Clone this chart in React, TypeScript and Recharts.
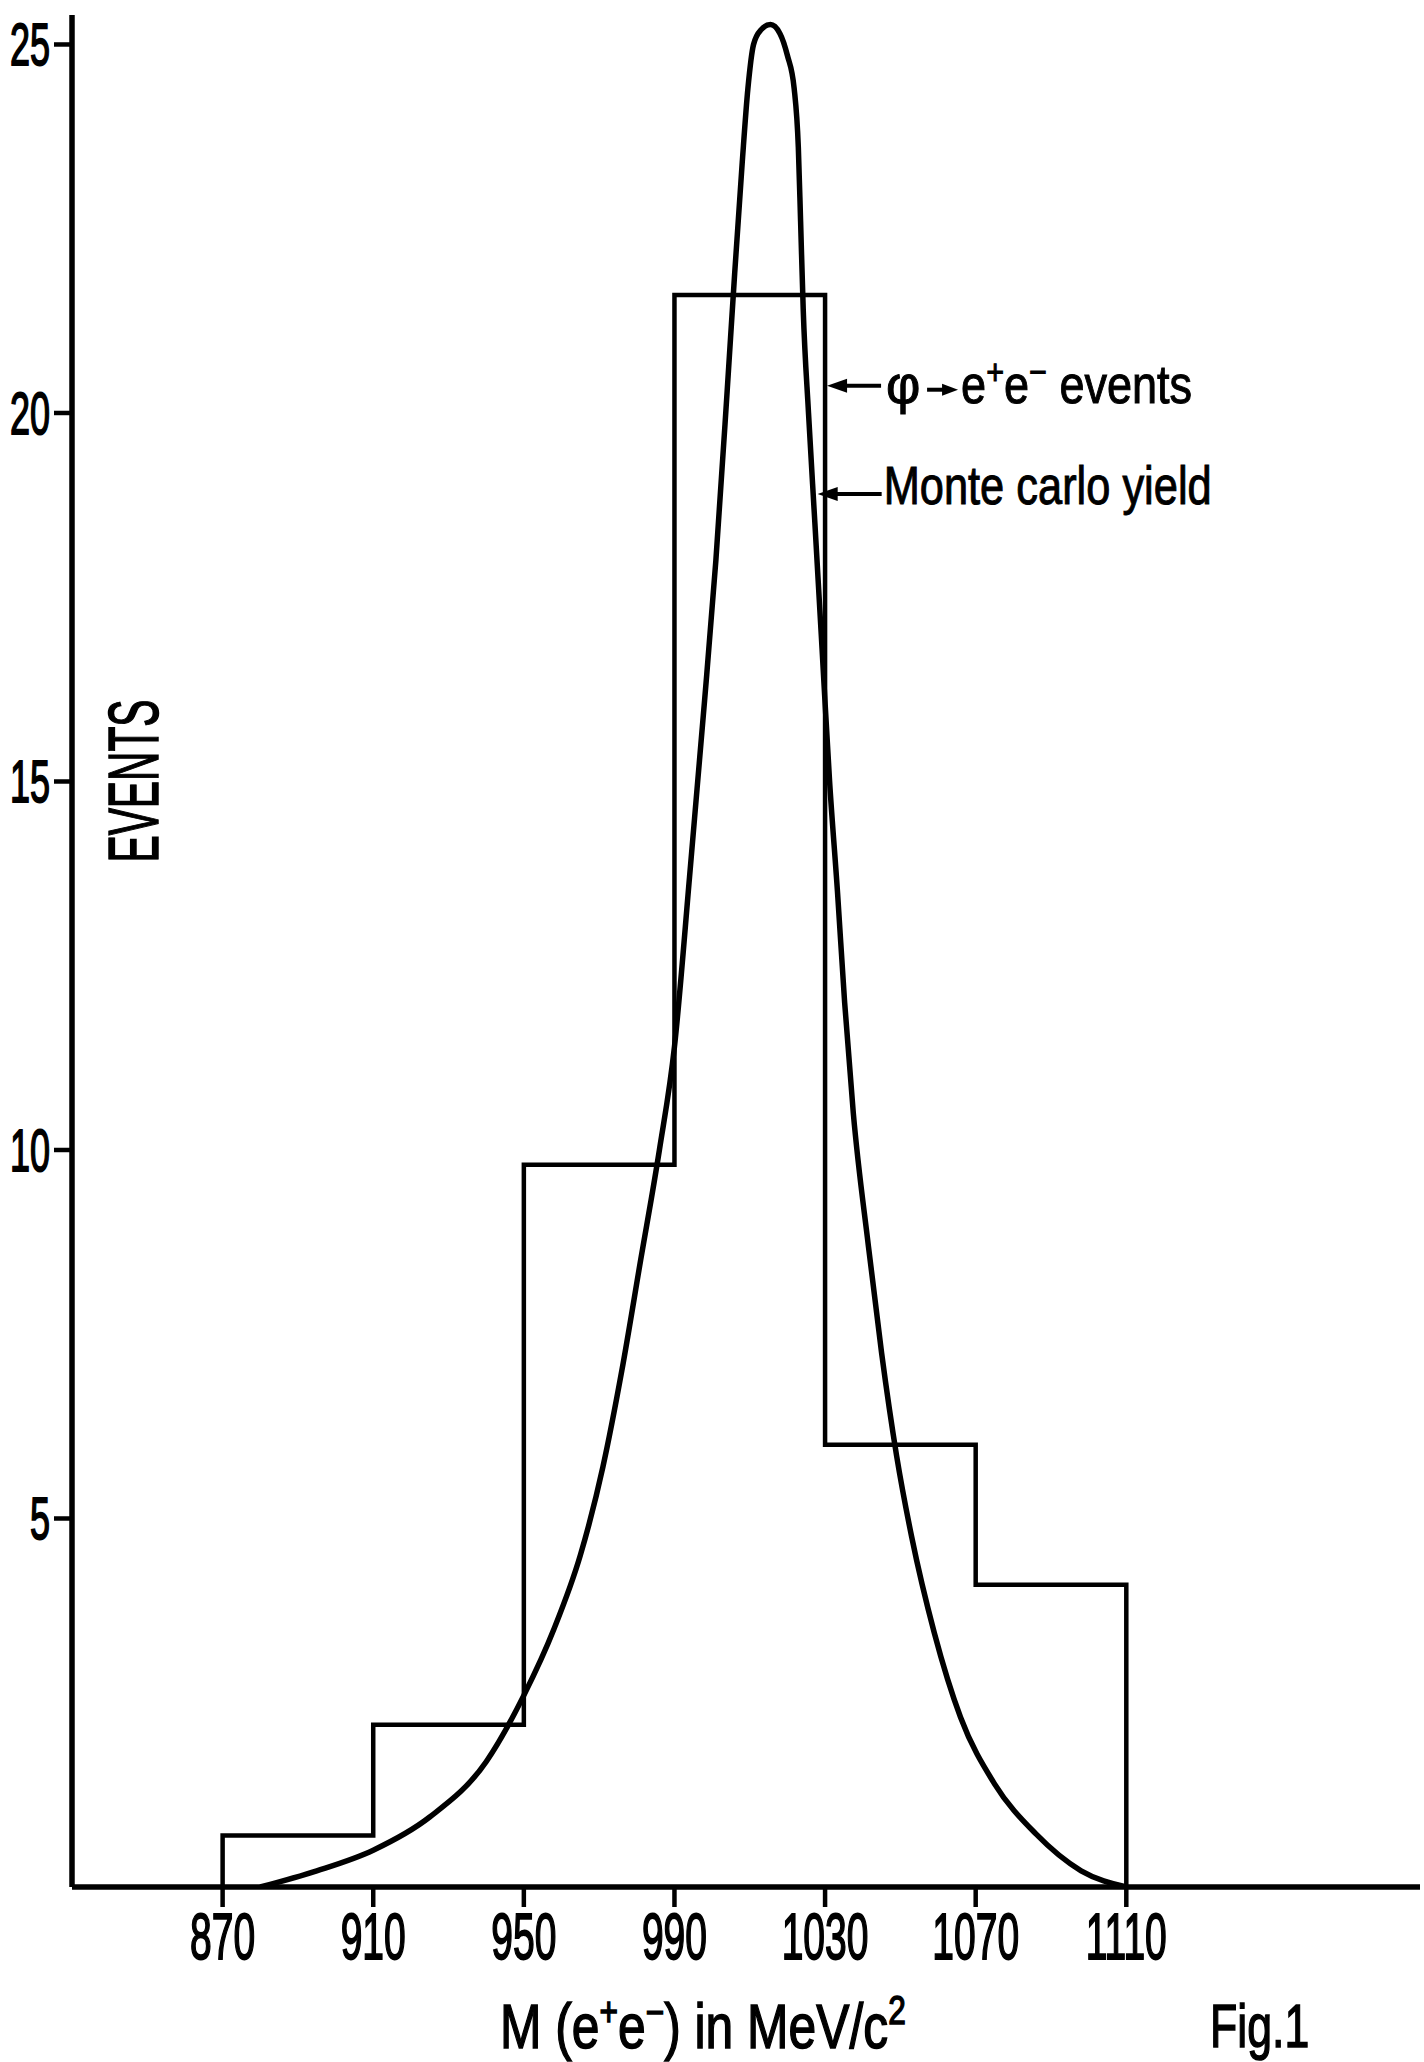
import React from 'react'
import { ComposedChart, Line, XAxis, YAxis, ReferenceDot } from 'recharts'

// histogram of phi -> e+e- events (bin edges in MeV/c^2, heights in events)
const binEdges = [870, 910, 950, 990, 1030, 1070, 1110]
const binCounts = [0.7, 2.2, 9.8, 21.6, 6.0, 4.1]

// Monte carlo yield curve
const mcMass = [
  880, 895, 910, 925, 940, 950, 958, 965, 971, 976, 981, 986, 990, 994, 996,
  998, 1001, 1004, 1006, 1008, 1009.5, 1011, 1013, 1015.5, 1018, 1020, 1021.8,
  1022.9, 1023.5, 1024.2, 1025.6, 1027.3, 1029.2, 1031.2, 1033.3, 1035.2,
  1037.5, 1041.5, 1045, 1049, 1053, 1059, 1066, 1075, 1086, 1098, 1110,
]
const mcYield = [
  0, 0.22, 0.5, 0.95, 1.7, 2.6, 3.5, 4.5, 5.7, 7.0, 8.5, 10.0, 11.4, 13.7, 14.9,
  16.1, 18.0, 20.3, 21.9, 23.4, 24.4, 25.0, 25.2, 25.27, 25.15, 24.85, 24.4,
  23.6, 22.6, 21.4, 20.0, 18.5, 16.8, 15.0, 13.5, 12.0,
  10.5, 8.7, 7.25, 5.85, 4.75, 3.45, 2.3, 1.4, 0.72, 0.22, 0,
]

const massTicks = [870, 910, 950, 990, 1030, 1070, 1110]
const eventTicks = [5, 10, 15, 20, 25]

const FONT = '"Liberation Sans", Arial, sans-serif'

// step outline: start on the axis, climb each bin, drop back at the last edge
const histData = [
  { x: binEdges[0], y: 0 },
  ...binCounts.map((c, i) => ({ x: binEdges[i], y: c })),
  { x: binEdges[binEdges.length - 1], y: 0 },
]
const mcData = mcMass.map((m, i) => ({ x: m, y: mcYield[i] }))

const XTick = (props: any) => {
  const { x, y, payload } = props
  return (
    <text
      transform={`translate(${x},${y + 48}) scale(0.61,1)`}
      textAnchor="middle"
      fontSize={64}
      fontFamily={FONT}
      fill="#000"
      stroke="#000"
      strokeWidth={1.8}
    >
      {payload.value}
    </text>
  )
}

const YTick = (props: any) => {
  const { x, y, payload } = props
  return (
    <text
      transform={`translate(${x},${y + 21}) scale(0.6,1)`}
      textAnchor="end"
      fontSize={60}
      fontFamily={FONT}
      fill="#000"
      stroke="#000"
      strokeWidth={1.8}
    >
      {payload.value}
    </text>
  )
}

const EventsNote = (props: any) => {
  const { cx, cy } = props
  return (
    <g>
      <line x1={cx + 14} y1={cy} x2={cx + 56} y2={cy} stroke="#000" strokeWidth={4} />
      <polygon points={`${cx + 2},${cy} ${cx + 22},${cy - 7} ${cx + 22},${cy + 7}`} fill="#000" />
      <text x={cx + 61} y={cy + 17} fontSize={53} fontFamily={FONT} fill="#000" stroke="#000" strokeWidth={1}>
        φ
      </text>
      <line x1={cx + 102} y1={cy + 4} x2={cx + 120} y2={cy + 4} stroke="#000" strokeWidth={4} />
      <polygon
        points={`${cx + 133},${cy + 4} ${cx + 117},${cy - 2} ${cx + 117},${cy + 10}`}
        fill="#000"
      />
      <text
        transform={`translate(${cx + 136},${cy + 17}) scale(0.85,1)`}
        fontSize={53}
        fontFamily={FONT}
        fill="#000"
        stroke="#000"
        strokeWidth={1}
      >
        e<tspan dy={-19} fontSize={36}>+</tspan>
        <tspan dy={19}>e</tspan>
        <tspan dy={-19} fontSize={36}>−</tspan>
        <tspan dy={19}> events</tspan>
      </text>
    </g>
  )
}

const McNote = (props: any) => {
  const { cx, cy } = props
  return (
    <g>
      <line x1={cx + 14} y1={cy} x2={cx + 66} y2={cy} stroke="#000" strokeWidth={4} />
      <polygon points={`${cx + 2},${cy} ${cx + 22},${cy - 7} ${cx + 22},${cy + 7}`} fill="#000" />
      <text
        x={cx + 68}
        y={cy + 10}
        fontSize={53}
        fontFamily={FONT}
        fill="#000"
        stroke="#000"
        strokeWidth={1}
        textLength={328}
        lengthAdjust="spacingAndGlyphs"
      >
        Monte carlo yield
      </text>
    </g>
  )
}

export default function App() {
  return (
    <div style={{ position: 'absolute', left: 0, top: 0, width: 1424, height: 2062, background: '#fff' }}>
      <ComposedChart width={1424} height={2062} margin={{ top: 15, right: 4, bottom: 0, left: 12 }}>
        <XAxis
          type="number"
          dataKey="x"
          domain={[830, 1188]}
          allowDataOverflow
          ticks={massTicks}
          height={175}
          tickSize={20}
          tickMargin={4}
          tick={<XTick />}
          axisLine={{ stroke: '#000', strokeWidth: 5.5 }}
          tickLine={{ stroke: '#000', strokeWidth: 4.5 }}
        />
        <YAxis
          type="number"
          domain={[0, 25.4]}
          allowDataOverflow
          ticks={eventTicks}
          width={60}
          tickSize={18}
          tickMargin={4}
          tick={<YTick />}
          axisLine={{ stroke: '#000', strokeWidth: 5.5 }}
          tickLine={{ stroke: '#000', strokeWidth: 4.5 }}
        />
        <Line
          data={histData}
          dataKey="y"
          type="stepAfter"
          stroke="#000"
          strokeWidth={4.5}
          strokeLinejoin="miter"
          dot={false}
          activeDot={false}
          isAnimationActive={false}
        />
        <Line
          data={mcData}
          dataKey="y"
          type="monotone"
          stroke="#000"
          strokeWidth={5.5}
          dot={false}
          activeDot={false}
          isAnimationActive={false}
        />
        <ReferenceDot x={1030} y={20.37} ifOverflow="visible" shape={<EventsNote />} />
        <ReferenceDot x={1027.5} y={18.9} ifOverflow="visible" shape={<McNote />} />
      </ComposedChart>
      <svg
        width={1424}
        height={2062}
        style={{ position: 'absolute', left: 0, top: 0, pointerEvents: 'none' }}
      >
        <text
          transform="translate(158,781) rotate(-90)"
          textAnchor="middle"
          fontSize={71}
          fontFamily={FONT}
          fill="#000"
          stroke="#000"
          strokeWidth={1.5}
          textLength={163}
          lengthAdjust="spacingAndGlyphs"
        >
          EVENTS
        </text>
        <text
          transform="translate(500,2048) scale(0.79,1)"
          fontSize={63}
          fontFamily={FONT}
          fill="#000"
          stroke="#000"
          strokeWidth={1.5}
        >
          M (e<tspan dy={-22} fontSize={40}>+</tspan>
          <tspan dy={22}>e</tspan>
          <tspan dy={-22} fontSize={40}>−</tspan>
          <tspan dy={22}>) in MeV/c</tspan>
          <tspan dy={-24} fontSize={40}>2</tspan>
        </text>
        <text
          transform="translate(1210,2047) scale(0.72,1)"
          fontSize={62}
          fontFamily={FONT}
          fill="#000"
          stroke="#000"
          strokeWidth={1.5}
        >
          Fig.1
        </text>
      </svg>
    </div>
  )
}
